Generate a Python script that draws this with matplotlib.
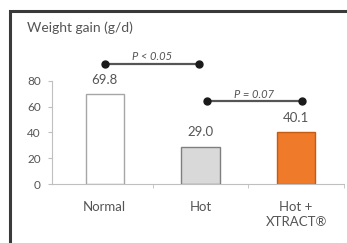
import matplotlib
matplotlib.use("Agg")
import matplotlib.pyplot as plt
from matplotlib.patches import Rectangle
import numpy as np

plt.rcParams["font.family"] = ["Lato", "DejaVu Sans"]

categories = ["Normal", "Hot", "Hot +\nXTRACT\u00ae"]
gain = [69.8, 29.0, 40.1]
value_labels = ["69.8", "29.0", "40.1"]
yticks = [0, 20, 40, 60, 80]
# significance brackets: (left index, right index, height, label)
brackets = [(0, 0.99, 93, "P < 0.05"), (1.07, 2.06, 64, "P = 0.07")]

TXT = "#555555"
fills = ["#ffffff", "#d9d9d9", "#ee7a2a"]
edges = ["#a6a6a6", "#7f7f7f", "#c55a11"]

fig = plt.figure(figsize=(3.47, 2.43), dpi=100)
# outer frame (cropped panel border)
fig.patches.append(Rectangle((9.5 / 347, -0.1), 1.2, 1 - 11.5 / 243 + 0.1, transform=fig.transFigure,
                             fill=False, edgecolor="#3a3a3a", linewidth=2.2))
ax = fig.add_axes([52 / 347, 1 - 184 / 243, (344 - 52) / 347, (184 - 55) / 243])

x = np.arange(len(categories))
ax.bar(x, gain, 0.4, color=fills, edgecolor=edges, linewidth=1.0, zorder=2)
for xi, v, s in zip(x, gain, value_labels):
    ax.text(xi, v + 11, s, ha="center", va="center", fontsize=9.5, color=TXT)

for x0, x1, h, lbl in brackets:
    ax.plot([x0, x1], [h, h], color="#555555", lw=1.6, marker="o", ms=5,
            mfc="#1a1a1a", mec="#1a1a1a", clip_on=False, zorder=3)
    ax.text((x0 + x1) / 2, h + 1.5, lbl, ha="center", va="bottom", fontsize=8, color=TXT,
            style="italic")

ax.set_xlim(-0.55, 2.5)
ax.set_ylim(0, 100)
ax.set_yticks(yticks)
ax.set_xticks(x)
ax.set_xticklabels(categories, fontsize=9.5, color=TXT, linespacing=1.35)
ax.set_xticks([0.5, 1.5, 2.5], minor=True)
ax.tick_params(axis="x", which="major", length=0, pad=12)
ax.tick_params(axis="x", which="minor", length=3, color="#bfbfbf", direction="out")
ax.tick_params(axis="y", length=3, color="#bfbfbf", labelsize=8.5, labelcolor=TXT, pad=5)
for s in ["top", "right"]:
    ax.spines[s].set_visible(False)
ax.spines["left"].set_bounds(0, 80)
ax.spines["left"].set_color("#bfbfbf")
ax.spines["bottom"].set_color("#bfbfbf")
ax.patch.set_alpha(0)

fig.text(27 / 347, 1 - 28 / 243, "Weight gain (g/d)", fontsize=10, color=TXT, va="center")

fig.savefig("out.png", dpi=100)
